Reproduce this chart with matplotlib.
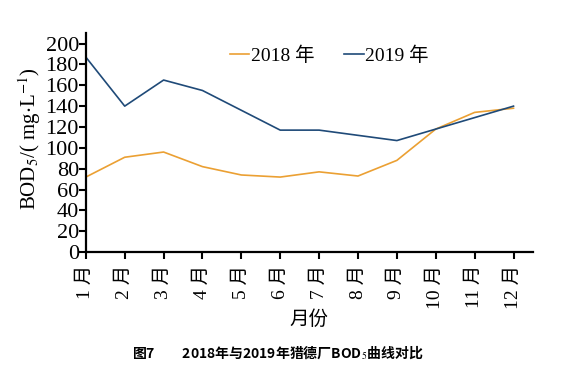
import matplotlib
matplotlib.use('Agg')
from matplotlib import pyplot as plt

months = [1, 2, 3, 4, 5, 6, 7, 8, 9, 10, 11, 12]
month_labels = ['%d 月' % m for m in months]
bod_2018 = [72, 91, 96, 82, 74, 72, 77, 73, 88, 118, 134, 138]
bod_2019 = [187, 140, 165, 155, 136, 117, 117, 112, 107, 118, 129, 140]
y_ticks = list(range(0, 201, 20))

plt.rcParams['font.family'] = ['Liberation Serif', 'Noto Sans CJK SC', 'DejaVu Sans']
plt.rcParams['mathtext.fontset'] = 'stix'

fig = plt.figure(figsize=(5.61, 3.85), dpi=100)
ax = fig.add_axes([0.153, 0.345, 0.797, 0.569])

ax.plot(months, bod_2018, color='#EBA033', linewidth=1.2, label='2018 年')
ax.plot(months, bod_2019, color='#1F4A78', linewidth=1.2, label='2019 年')

ax.set_xlim(1, 12.5)
ax.set_ylim(0, 210)
ax.set_yticks(y_ticks)
ax.set_xticks(months)
ax.set_xticklabels(month_labels, rotation=90, fontsize=14,
                   family=['Liberation Serif', 'Noto Sans CJK SC'])
ax.tick_params(axis='y', labelsize=16, direction='out', length=5, width=1.5, pad=0)
ax.tick_params(axis='x', direction='out', length=5, width=1.5, pad=4)

for s in ['top', 'right']:
    ax.spines[s].set_visible(False)
for s in ['left', 'bottom']:
    ax.spines[s].set_linewidth(1.6)

ax.set_ylabel(r'BOD$_5$/( mg$\cdot$L$^{-1}$)', fontsize=15)
ax.yaxis.set_label_coords(-0.095, 0.52)
ax.set_xlabel('月份', fontsize=14, labelpad=0, family=['Noto Sans CJK SC'])

ax.legend(loc='upper center', bbox_to_anchor=(0.545, 0.975), ncol=2, frameon=False,
          fontsize=14, handlelength=1.0, handletextpad=0.1, columnspacing=1.5,
          borderaxespad=0.0)

fig.text(0.495, 0.085, '图7　　2018年与2019年猎德厂BOD$_5$曲线对比', ha='center', va='center',
         fontsize=10, fontweight='bold', family=['Noto Sans CJK SC', 'DejaVu Sans'])

fig.savefig('out.png', dpi=100)
